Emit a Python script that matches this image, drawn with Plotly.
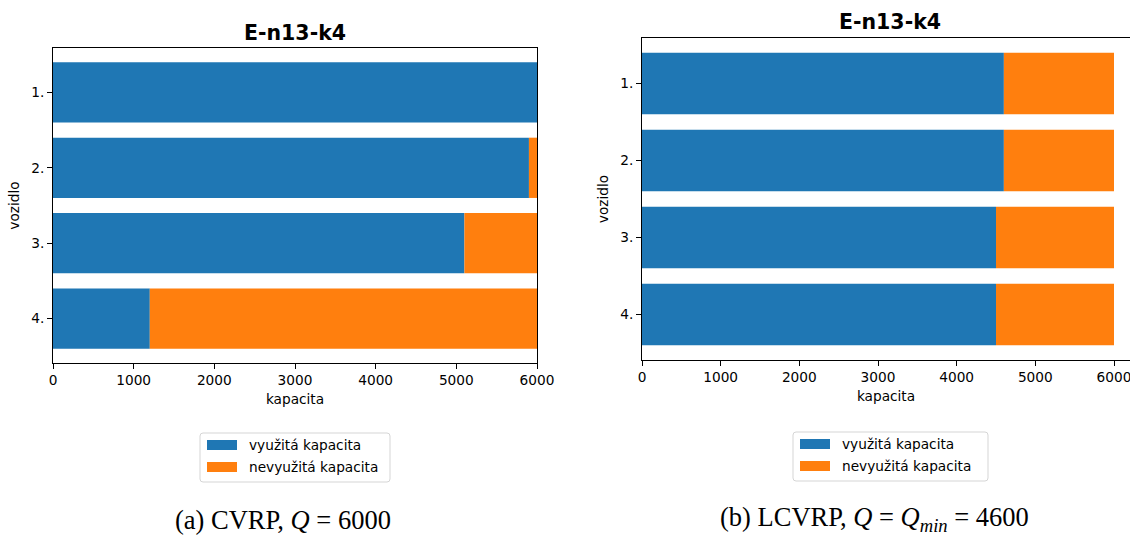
import plotly.graph_objects as go

# Vehicle load per route for instance E-n13-k4
vehicles = ["1.", "2.", "3.", "4."]
capacity = 6000
used_cvrp = [6000, 5900, 5100, 1200]
used_lcvrp = [4600, 4600, 4500, 4500]
x_ticks = [0, 1000, 2000, 3000, 4000, 5000, 6000]

BLUE = "#1f77b4"
ORANGE = "#ff7f0e"
W, H = 1130, 535
TICK_FONT = dict(family="DejaVu Sans", size=13.7, color="#000")


def px(x):
    return x / W


def py(y):
    return 1 - y / H


ypos = list(range(len(vehicles)))
fig = go.Figure()
for used, xa, ya in [(used_cvrp, "x", "y"), (used_lcvrp, "x2", "y2")]:
    unused = [capacity - u for u in used]
    fig.add_trace(go.Bar(y=ypos, x=used, orientation="h", width=0.8,
                         marker=dict(color=BLUE, line=dict(width=0)),
                         name="využitá kapacita", xaxis=xa, yaxis=ya,
                         showlegend=False))
    fig.add_trace(go.Bar(y=ypos, x=unused, base=used, orientation="h", width=0.8,
                         marker=dict(color=ORANGE, line=dict(width=0)),
                         name="nevyužitá kapacita", xaxis=xa, yaxis=ya,
                         showlegend=False))

xcommon = dict(tickvals=x_ticks, ticks="outside", ticklen=5, tickcolor="#000",
               showline=True, linecolor="#000", linewidth=1, mirror=True,
               showgrid=False, zeroline=False, tickfont=TICK_FONT, automargin=False,
               ticklabeloverflow="allow",
               title=dict(text="kapacita", font=TICK_FONT, standoff=6))
ycommon = dict(tickvals=ypos, ticktext=vehicles, range=[3.59, -0.59],
               ticks="outside", ticklen=5, tickcolor="#000",
               showline=True, linecolor="#000", linewidth=1,
               showgrid=False, zeroline=False, tickfont=TICK_FONT, automargin=False,
               title=dict(text="vozidlo", font=TICK_FONT, standoff=8))

fig.update_layout(
    width=W, height=H,
    margin=dict(l=0, r=0, t=0, b=0, autoexpand=False),
    paper_bgcolor="white", plot_bgcolor="white",
    barmode="overlay",
    xaxis=dict(domain=[px(53), px(537)], range=[0, 6000], anchor="y", **xcommon),
    yaxis=dict(domain=[py(363), py(48)], anchor="x", mirror=True, **ycommon),
    xaxis2=dict(domain=[px(642), 1.0], range=[0, 6000 * (1130 - 642) / (1114 - 642)],
                anchor="y2", **xcommon),
    yaxis2=dict(domain=[py(360), py(38)], anchor="x2", mirror=False, **ycommon),
)


def note(x, y, text, font, xanchor="center"):
    fig.add_annotation(x=px(x), y=py(y), xref="paper", yref="paper",
                       xanchor=xanchor, yanchor="middle", text=text,
                       showarrow=False, font=font)


# Panel titles
TITLE_FONT = dict(family="DejaVu Sans", size=20.5, color="#000")
note(295, 33, "<b>E-n13-k4</b>", TITLE_FONT)
note(890, 22, "<b>E-n13-k4</b>", TITLE_FONT)


def legend_box(x0, y0, x1, y1, r=3):
    return (f"M{px(x0 + r)},{py(y0)} L{px(x1 - r)},{py(y0)} "
            f"Q{px(x1)},{py(y0)} {px(x1)},{py(y0 + r)} "
            f"L{px(x1)},{py(y1 - r)} Q{px(x1)},{py(y1)} {px(x1 - r)},{py(y1)} "
            f"L{px(x0 + r)},{py(y1)} Q{px(x0)},{py(y1)} {px(x0)},{py(y1 - r)} "
            f"L{px(x0)},{py(y0 + r)} Q{px(x0)},{py(y0)} {px(x0 + r)},{py(y0)} Z")


# Legends drawn below each panel
for bx0, by0, bx1, by1 in [(200, 433, 390, 482), (793, 432, 988, 481)]:
    fig.add_shape(type="path", path=legend_box(bx0, by0, bx1, by1),
                  xref="paper", yref="paper",
                  line=dict(color="#d5d5d5", width=1), fillcolor="rgba(255,255,255,0.9)")
    rows = [(BLUE, "využitá kapacita", by0 + 12), (ORANGE, "nevyužitá kapacita", by0 + 34)]
    for color, label, cy in rows:
        fig.add_shape(type="rect", xref="paper", yref="paper",
                      x0=px(bx0 + 7), x1=px(bx0 + 37), y0=py(cy + 5), y1=py(cy - 5),
                      line=dict(width=0), fillcolor=color)
        note(bx0 + 47, cy, label, TICK_FONT, xanchor="left")

# Sub-figure captions
CAP_FONT = dict(family="Liberation Serif", size=26.5, color="#000")
note(283, 520, "(a) CVRP, <i>Q</i> = 6000", CAP_FONT)
note(874, 519, "(b) LCVRP, <i>Q</i> = <i>Q</i><sub><i>min</i></sub> = 4600", CAP_FONT)

fig.write_html("out.html")
